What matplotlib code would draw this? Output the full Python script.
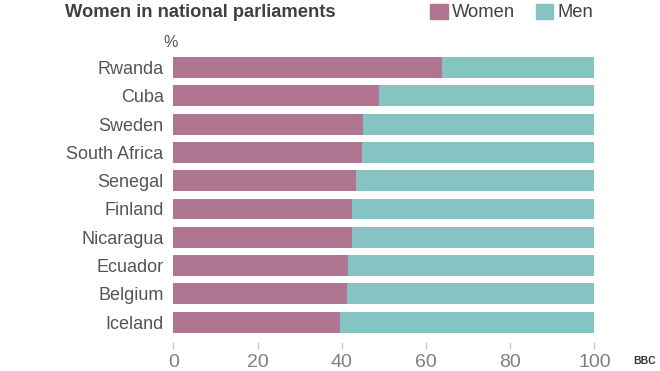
import matplotlib
matplotlib.use("Agg")
import matplotlib.pyplot as plt
from matplotlib.patches import Patch

countries = ["Rwanda", "Cuba", "Sweden", "South Africa", "Senegal",
             "Finland", "Nicaragua", "Ecuador", "Belgium", "Iceland"]
women = [63.8, 48.9, 45.0, 44.8, 43.3, 42.5, 42.4, 41.6, 41.3, 39.7]
men = [36.2, 51.1, 55.0, 55.2, 56.7, 57.5, 57.6, 58.4, 58.7, 60.3]
ticks = [0, 20, 40, 60, 80, 100]

pink = "#B07590"
teal = "#86C4C4"
grey = "#555555"

plt.rcParams["font.family"] = ["Liberation Sans", "DejaVu Sans"]

fig = plt.figure(figsize=(6.6, 3.71), dpi=100)
ax = fig.add_axes([0.2626, 0.0935, 0.6379, 0.7627])

ypos = list(range(len(countries)))
ax.barh(ypos, women, height=0.74, color=pink)
ax.barh(ypos, men, left=women, height=0.74, color=teal)

ax.set_xlim(0, 100)
ax.set_ylim(len(countries) - 0.5, -0.5)
ax.set_yticks(ypos)
ax.set_yticklabels(countries)
ax.tick_params(axis="y", length=0, pad=7, labelcolor=grey, labelsize=13)
ax.set_xticks(ticks)
ax.set_xticklabels([str(t) for t in ticks])
ax.tick_params(axis="x", length=5, width=1, color="#cccccc", pad=4,
               labelcolor="#808080", labelsize=14)
for s in ax.spines.values():
    s.set_visible(False)
ax.spines["bottom"].set_position(("outward", 4))

fig.text(0.098, 0.965, "Women in national parliaments", fontsize=13.2,
         fontweight="bold", color="#404040", va="center")
fig.text(0.258, 0.885, "%", fontsize=11.5, color=grey, va="center", ha="center")

handles = [Patch(color=pink, label="Women"), Patch(color=teal, label="Men")]
fig.legend(handles=handles, loc="upper right", bbox_to_anchor=(0.924, 1.035),
           ncol=2, frameon=False, fontsize=13.2, handlelength=0.95,
           handleheight=0.9, handletextpad=0.25, columnspacing=1.1,
           labelcolor="#404040")

fig.text(0.976, 0.027, "BBC", fontsize=7.5, fontweight="bold", color="#333333",
         ha="center", va="center")

fig.savefig("out.png", dpi=100)
